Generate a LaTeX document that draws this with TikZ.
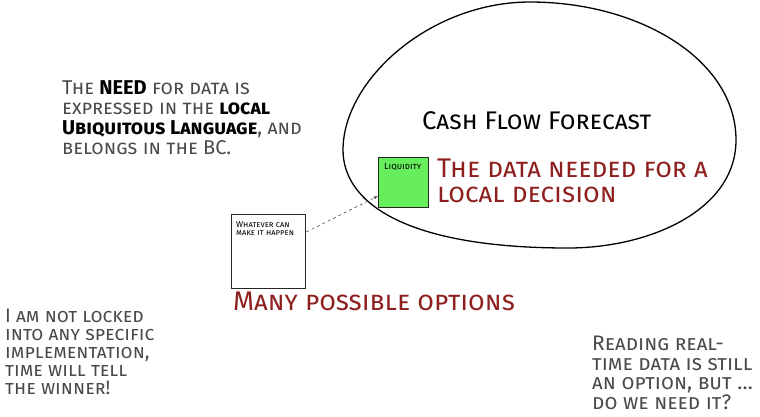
\documentclass[tikz,border=0pt]{standalone}
\usepackage{fontspec}
\setmainfont{Fira Sans}
\usetikzlibrary{arrows.meta, positioning}
\definecolor{notegray}{HTML}{4A4A4A}
\definecolor{notered}{HTML}{8E1F1F}
\definecolor{liqgreen}{HTML}{66EE5C}

\begin{document}
\begin{tikzpicture}[x=1pt, y=-1pt,
    note/.style={anchor=north west, inner sep=0pt, align=left, text=notegray, font=\fontsize{20}{20}\selectfont\scshape},
    redline/.style={anchor=north west, inner sep=0pt, align=left, text=notered, font=\fontsize{27}{24.5}\selectfont\scshape},
    card/.style={draw=black!85, line width=1.3pt, minimum width=#1, minimum height=#1, inner sep=0pt},
    cardtext/.style={anchor=north west, inner sep=0pt, align=left, font=\fontsize{8.5}{8.5}\selectfont\scshape},
]
    \useasboundingbox (0,0) rectangle (760,416);

    % bounded context
    \draw[line width=1.3pt] (343,150) .. controls (343,80) and (430,2) .. (530,2)
        .. controls (640,2) and (736,60) .. (736,140)
        .. controls (736,210) and (650,248) .. (568,248)
        .. controls (400,248) and (343,200) .. cycle;

    \node[anchor=north west, inner sep=0pt, font=\fontsize{25.5}{25.5}\selectfont\scshape] (ctx) at (422,111) {Cash Flow Forecast};

    \node[card=50pt, fill=liqgreen, anchor=north west] (liq) at (378,157) {};
    \node[cardtext, text=black, font=\fontsize{9}{9}\selectfont\scshape] (liqtxt) at ([shift={(6pt,-6pt)}]liq.north west) {Liquidity};

    \node[redline] (need) at (437,159) {The data needed for a\\local decision};

    \node[card=74pt, fill=white, anchor=north west] (any) at (231,214) {};
    \node[cardtext, text=black] (anytxt) at ([shift={(5pt,-7pt)}]any.north west) {Whatever can\\make it happen};

    \draw[dashed, line width=0.6pt, black!70, -{Latex[length=4pt, width=3pt]}]
        ([yshift=-18pt]any.north east) -- ([yshift=-39pt]liq.north west);

    \node[redline] (opts) at (233,292) {Many possible options};

    \node[note] (ubi) at (62,80) {The \textbf{\color{black}NEED} for data is\\expressed in the \textbf{\color{black}local}\\\textbf{\color{black}Ubiquitous Language}, and\\belongs in the BC.};

    \node[note, font=\fontsize{19.5}{18}\selectfont\scshape] (locked) at (5,309) {I am not locked\\into any specific\\implementation,\\time will tell\\the winner!};

    \node[note, font=\fontsize{21}{19.5}\selectfont\scshape] (realtime) at (592,336) {Reading real-\\time data is still\\an option, but \dots\\do we need it?};
\end{tikzpicture}
\end{document}
